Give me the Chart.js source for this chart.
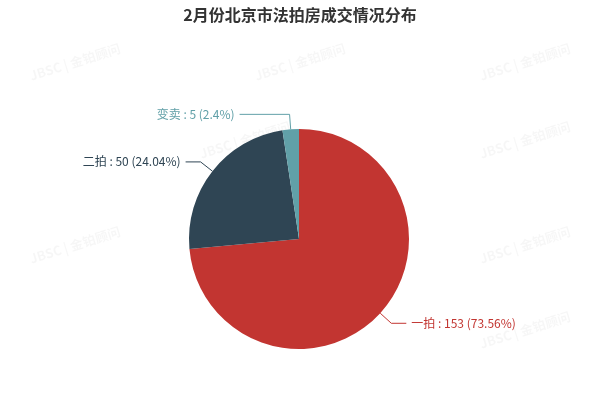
<!DOCTYPE html>
<html>
<head>
<meta charset="utf-8">
<script src="https://cdn.jsdelivr.net/npm/chart.js@4/dist/chart.umd.min.js"></script>
<style>
  body { margin: 0; background: #fff; }
  #wrap { width: 600px; height: 400px; }
</style>
</head>
<body>
<div id="wrap"><canvas id="pieChart"></canvas></div>
<script>
// data
const categories = ['一拍', '二拍', '变卖'];
const counts = [153, 50, 5];
const percents = ['73.56%', '24.04%', '2.4%'];
const colors = ['#c23531', '#2f4554', '#61a0a8'];
// extra horizontal leader length per label (label pushed out in the original)
const extraLen = [0, 0, 35];

const FONT = '"Noto Sans CJK SC", "Microsoft YaHei", sans-serif';

// faint watermark + title + labels with leader lines
const decorPlugin = {
    id: 'decor',
    beforeDraw(chart) {
        const c = chart.ctx;
        c.save();
        c.fillStyle = 'rgba(0,0,0,0.035)';
        c.font = 'bold 13px ' + FONT;
        const spots = [[75, 62], [300, 62], [525, 62], [245, 140], [525, 140],
                       [75, 245], [300, 245], [525, 245], [525, 330]];
        spots.forEach(p => {
            c.save();
            c.translate(p[0], p[1]);
            c.rotate(-0.3);
            c.textAlign = 'center';
            c.textBaseline = 'middle';
            c.fillText('JBSC | 金铂顾问', 0, 0);
            c.restore();
        });
        c.restore();
    },
    afterDraw(chart) {
        const c = chart.ctx;
        c.save();
        c.fillStyle = '#333';
        c.font = 'bold 16px ' + FONT;
        c.textAlign = 'center';
        c.textBaseline = 'middle';
        c.fillText('2月份北京市法拍房成交情况分布', 300, 15);

        const meta = chart.getDatasetMeta(0);
        c.font = '12px ' + FONT;
        c.textBaseline = 'middle';
        meta.data.forEach((arc, i) => {
            const mid = (arc.startAngle + arc.endAngle) / 2;
            const r = arc.outerRadius;
            const x0 = arc.x + Math.cos(mid) * r;
            const y0 = arc.y + Math.sin(mid) * r;
            const x1 = arc.x + Math.cos(mid) * (r + 15);
            const y1 = arc.y + Math.sin(mid) * (r + 15);
            const dir = Math.cos(mid) >= 0 ? 1 : -1;
            const x2 = x1 + dir * (15 + extraLen[i]);
            c.strokeStyle = colors[i];
            c.lineWidth = 1;
            c.beginPath();
            c.moveTo(x0, y0);
            c.lineTo(x1, y1);
            c.lineTo(x2, y1);
            c.stroke();
            c.fillStyle = colors[i];
            c.textAlign = dir > 0 ? 'left' : 'right';
            c.fillText(categories[i] + ' : ' + counts[i] + ' (' + percents[i] + ')', x2 + dir * 5, y1);
        });
        c.restore();
    }
};

new Chart(document.getElementById('pieChart'), {
    type: 'pie',
    data: {
        labels: categories,
        datasets: [{
            data: counts,
            backgroundColor: colors,
            borderWidth: 0
        }]
    },
    options: {
        responsive: true,
        maintainAspectRatio: false,
        animation: false,
        layout: { padding: { top: 129, bottom: 51, left: 189, right: 191 } },
        plugins: {
            legend: { display: false },
            tooltip: { enabled: false },
            title: { display: false }
        }
    },
    plugins: [decorPlugin]
});
</script>
</body>
</html>
